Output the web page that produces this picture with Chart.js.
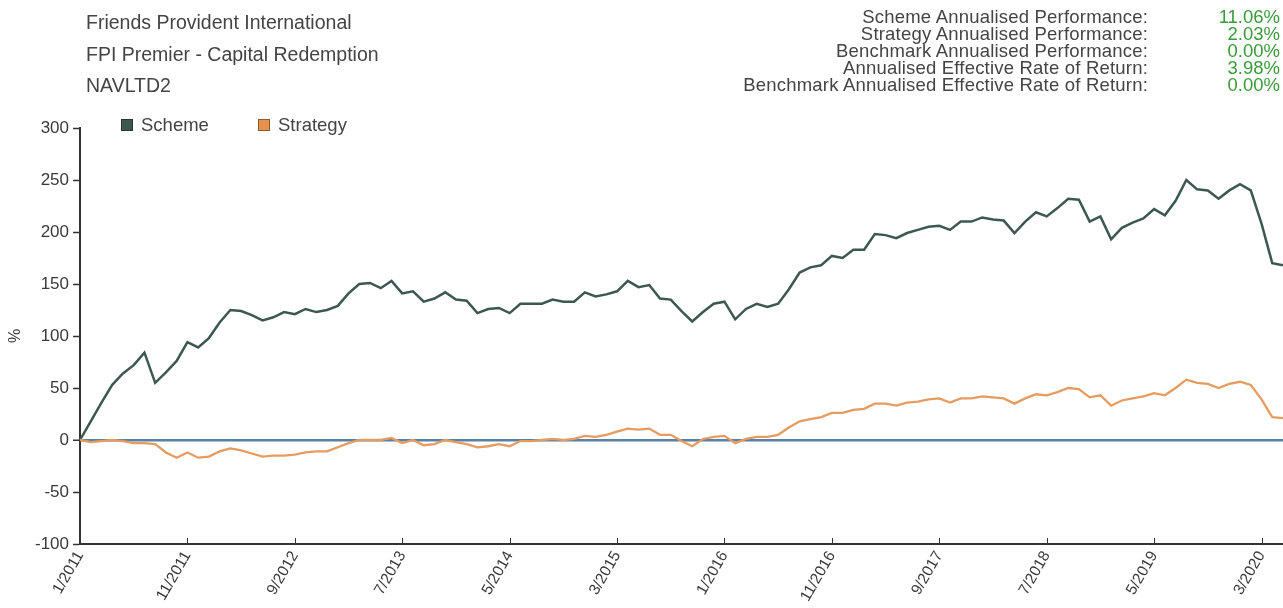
<!DOCTYPE html>
<html>
<head>
<meta charset="utf-8">
<script src="https://cdn.jsdelivr.net/npm/chart.js@4.4.0/dist/chart.umd.min.js"></script>
<style>
  body { margin: 0; background: #fff; font-family: 'Liberation Sans', Arial, sans-serif; color: #444; }
  #wrap { position: relative; width: 1283px; height: 608px; overflow: hidden; }
  #info { position: absolute; left: 86px; top: 7px; font-size: 19.5px; line-height: 31.5px; }
  #stats { position: absolute; left: 0; top: 8px; width: 1283px; height: 100px; font-size: 18.5px; line-height: 17px; }
  #stats .lbl { position: absolute; right: 135px; white-space: nowrap; text-align: right; letter-spacing: 0.2px; }
  #stats .val { position: absolute; right: 3px; color: #3a9a3a; text-align: right; }
  .legend { position: absolute; top: 115px; font-size: 18.5px; line-height: 20px; }
  .legend i { display: inline-block; width: 10px; height: 10px; border: 1px solid #333; margin-right: 8px; vertical-align: 0px; }
  canvas { position: absolute; left: 0; top: 0; }
</style>
</head>
<body>
<div id="wrap">
  <canvas id="chart-perf" width="1283" height="608"></canvas>
  <div id="info">
    Friends Provident International<br>
    FPI Premier - Capital Redemption<br>
    NAVLTD2
  </div>
  <div id="stats"></div>
  <div class="legend" style="left:121px"><i style="background:#3b5750"></i>Scheme</div>
  <div class="legend" style="left:258px"><i style="background:#e8924e;border-color:#8a5a30"></i>Strategy</div>
</div>
<script>
// monthly points, 1/2011 .. 5/2020
const START_YEAR = 2011;
const MONTH_COUNT = 113;
const MONTHS = [];
for (let i = 0; i < MONTH_COUNT; i++) {
    MONTHS.push(((i % 12) + 1) + '/' + (START_YEAR + Math.floor(i / 12)));
}

const X_TICKS = ['1/2011', '11/2011', '9/2012', '7/2013', '5/2014', '3/2015',
    '1/2016', '11/2016', '9/2017', '7/2018', '5/2019', '3/2020'];

const SCHEME = [
    0, 18, 36, 53, 64, 72, 84, 55, 65, 76, 94, 89,
    98, 113, 125, 124, 120, 115, 118, 123, 121, 126, 123, 125,
    129, 141, 150, 151, 146, 153, 141, 143, 133, 136, 142, 135,
    134, 122, 126, 127, 122, 131, 131, 131, 135, 133, 133, 142,
    138, 140, 143, 153, 147, 149, 136, 135, 124, 114, 123, 131,
    133, 116, 126, 131, 128, 131, 145, 161, 166, 168, 177, 175,
    183, 183, 198, 197, 194, 199, 202, 205, 206, 202, 210, 210,
    214, 212, 211, 199, 210, 219, 215, 223, 232, 231, 210, 215,
    193, 204, 209, 213, 222, 216, 230, 250, 241, 240, 232, 240,
    246, 240, 208, 170, 168
];

const STRATEGY = [
    0, -2, -1, 0, -1, -3, -3, -4, -12, -17, -12, -17,
    -16, -11, -8, -10, -13, -16, -15, -15, -14, -12, -11, -11,
    -7, -3, 0, 0, 0, 2, -3, 0, -5, -4, 0, -2,
    -4, -7, -6, -4, -6, -1, -1, 0, 1, 0, 1, 4,
    3, 5, 8, 11, 10, 11, 5, 5, -1, -6, 1, 3,
    4, -3, 1, 3, 3, 5, 12, 18, 20, 22, 26, 26,
    29, 30, 35, 35, 33, 36, 37, 39, 40, 36, 40, 40,
    42, 41, 40, 35, 40, 44, 43, 46, 50, 49, 41, 43,
    33, 38, 40, 42, 45, 43, 50, 58, 55, 54, 50, 54,
    56, 53, 39, 22, 21
];

const STAT_LABELS = [
    'Scheme Annualised Performance:',
    'Strategy Annualised Performance:',
    'Benchmark Annualised Performance:',
    'Annualised Effective Rate of Return:',
    'Benchmark Annualised Effective Rate of Return:'
];
const STAT_VALUES = ['11.06%', '2.03%', '0.00%', '3.98%', '0.00%'];

const stats = document.getElementById('stats');
STAT_LABELS.forEach((lbl, i) => {
    stats.insertAdjacentHTML('beforeend',
        '<div class="lbl" style="top:' + (i * 17) + 'px">' + lbl + '</div>' +
        '<div class="val" style="top:' + (i * 17) + 'px">' + STAT_VALUES[i] + '</div>');
});

const FONT = 'Liberation Sans, Arial, sans-serif';

// x ticks on this chart point up into the plot
const innerTicks = {
    id: 'innerTicks',
    afterDraw(chart) {
        const xs = chart.scales.x;
        const ctx = chart.ctx;
        const y = chart.chartArea.bottom;
        ctx.save();
        ctx.strokeStyle = '#333';
        ctx.lineWidth = 1;
        MONTHS.forEach((m, i) => {
            if (!X_TICKS.includes(m)) return;
            const x = Math.round(xs.getPixelForValue(i)) + 0.5;
            ctx.beginPath();
            ctx.moveTo(x, y);
            ctx.lineTo(x, y - 6);
            ctx.stroke();
        });
        ctx.restore();
    }
};

new Chart(document.getElementById('chart-perf').getContext('2d'), {
    type: 'line',
    data: {
        labels: MONTHS,
        datasets: [
            { label: 'Strategy', data: STRATEGY, borderColor: '#e69b60', borderWidth: 2.3 },
            { label: 'Scheme', data: SCHEME, borderColor: '#3d5851', borderWidth: 2.5 }
        ]
    },
    options: {
        responsive: false,
        animation: false,
        devicePixelRatio: 1,
        layout: { padding: { top: 128, left: 0, right: 0, bottom: 0 } },
        elements: { point: { radius: 0 }, line: { tension: 0 } },
        plugins: { legend: { display: false }, tooltip: { enabled: false } },
        scales: {
            x: {
                grid: { display: true, drawOnChartArea: false, drawTicks: false },
                border: { display: true, color: '#333', width: 2 },
                ticks: {
                    autoSkip: false,
                    maxRotation: 60,
                    minRotation: 60,
                    padding: 4,
                    color: '#3a3a3a',
                    font: { family: FONT, size: 15.5 },
                    callback: (v, i) => X_TICKS.includes(MONTHS[i]) ? MONTHS[i] : ''
                },
                afterFit: s => { s.height = 64; s.paddingRight = 0; s.paddingLeft = 0; }
            },
            y: {
                min: -100,
                max: 300,
                ticks: { stepSize: 50, color: '#3a3a3a', padding: 4, font: { family: FONT, size: 17 } },
                grid: {
                    color: c => (c.tick && c.tick.value === 0) ? '#5b80a5' : 'rgba(0,0,0,0)',
                    lineWidth: c => (c.tick && c.tick.value === 0) ? 2.5 : 1,
                    tickColor: '#333',
                    tickLength: 7,
                    tickWidth: 1.5
                },
                border: { display: true, color: '#333', width: 2 },
                title: { display: true, text: '%', color: '#3a3a3a', font: { family: FONT, size: 16 }, padding: { top: 6, bottom: 0 } },
                afterFit: s => { s.width = 80; s.paddingTop = 0; s.paddingBottom = 0; }
            }
        }
    },
    plugins: [innerTicks]
});
</script>
</body>
</html>
